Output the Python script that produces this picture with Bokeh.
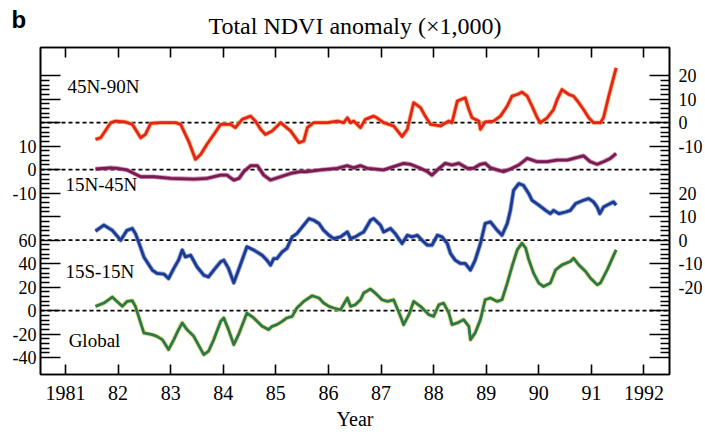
from bokeh.plotting import figure
from bokeh.models import Range1d, LinearAxis, FixedTicker, Span, Label
from bokeh.embed import file_html
from bokeh.resources import INLINE

# ---------------- data ----------------
north_45_90 = [
    (1981.57, -7.1), (1981.67, -6.4), (1981.86, 0.0), (1981.95, 0.7), (1982.14, 0.3),
    (1982.27, -0.7), (1982.43, -6.4), (1982.52, -5.0), (1982.62, -0.3), (1982.81, 0.0),
    (1983.09, 0.0), (1983.19, -0.7), (1983.34, -7.8), (1983.47, -15.6), (1983.57, -13.5),
    (1983.69, -9.2), (1983.82, -5.0), (1983.95, -0.7), (1984.14, -0.7), (1984.23, -2.1),
    (1984.36, 1.4), (1984.52, 2.8), (1984.61, 0.7), (1984.71, -2.8), (1984.80, -5.0),
    (1984.93, -3.5), (1985.09, 0.0), (1985.28, -3.5), (1985.44, -8.5), (1985.53, -7.8),
    (1985.60, -2.1), (1985.72, 0.0), (1985.98, 0.0), (1986.17, 0.7), (1986.29, 0.0),
    (1986.36, 2.1), (1986.42, 0.0), (1986.48, 0.7), (1986.61, -2.1), (1986.70, 1.4),
    (1986.86, 2.8), (1986.92, 2.1), (1987.05, 0.0), (1987.24, -1.4), (1987.40, -5.9),
    (1987.50, -2.8), (1987.62, 8.5), (1987.75, 6.4), (1987.84, 2.8), (1987.94, -0.7),
    (1988.13, -1.4), (1988.29, 0.7), (1988.35, 0.0), (1988.45, 9.2), (1988.60, 10.6),
    (1988.67, 5.6), (1988.73, 2.1), (1988.86, 0.7), (1988.89, -2.8), (1988.98, 0.3),
    (1989.14, 0.7), (1989.27, 2.8), (1989.40, 7.1), (1989.49, 11.3), (1989.59, 12.0),
    (1989.68, 13.0), (1989.78, 11.3), (1989.87, 7.1), (1989.97, 2.1), (1990.03, 0.0),
    (1990.16, 2.1), (1990.28, 5.6), (1990.35, 9.9), (1990.44, 14.1), (1990.57, 12.0),
    (1990.66, 11.3), (1990.76, 8.5), (1990.85, 5.6), (1990.95, 2.1), (1991.04, 0.0),
    (1991.17, 0.0), (1991.23, 2.1), (1991.33, 11.3), (1991.47, 23.3),
]
north_15_45 = [
    (1981.57, 0.3), (1981.86, 0.8), (1981.98, 0.6), (1982.17, -0.1), (1982.43, -3.0),
    (1982.68, -3.0), (1983.00, -3.7), (1983.44, -4.0), (1983.69, -3.7), (1983.95, -2.3),
    (1984.07, -2.3), (1984.20, -4.4), (1984.30, -3.7), (1984.39, -0.8), (1984.52, 1.7),
    (1984.65, 1.7), (1984.77, -2.3), (1984.90, -4.4), (1985.09, -3.0), (1985.28, -1.6),
    (1985.47, -0.8), (1985.60, -0.8), (1985.85, -0.1), (1986.17, 0.6), (1986.36, 1.7),
    (1986.48, 0.8), (1986.61, 1.7), (1986.74, 0.6), (1987.05, -0.1), (1987.24, 1.3),
    (1987.43, 2.7), (1987.56, 2.3), (1987.75, 0.6), (1987.88, -0.8), (1987.97, -2.3),
    (1988.07, -0.1), (1988.22, 2.7), (1988.35, 2.0), (1988.48, 2.7), (1988.64, 0.6),
    (1988.76, 0.6), (1988.89, 2.3), (1988.98, 2.7), (1989.08, 0.8), (1989.21, -0.1),
    (1989.33, -0.8), (1989.46, 0.3), (1989.62, 2.0), (1989.78, 4.8), (1989.97, 3.4),
    (1990.16, 3.4), (1990.35, 4.1), (1990.54, 4.1), (1990.66, 4.8), (1990.85, 5.9),
    (1990.98, 3.4), (1991.11, 2.3), (1991.23, 3.4), (1991.36, 4.8), (1991.47, 6.9),
]
tropics = [
    (1981.57, 3.9), (1981.73, 6.4), (1981.89, 4.2), (1982.05, 0.0), (1982.17, 4.2),
    (1982.27, 5.0), (1982.33, 2.8), (1982.39, -0.7), (1982.49, -7.1), (1982.65, -12.7),
    (1982.74, -14.1), (1982.87, -14.4), (1982.96, -16.3), (1983.06, -12.0), (1983.15, -8.5),
    (1983.22, -4.2), (1983.28, -7.1), (1983.38, -6.4), (1983.50, -11.3), (1983.63, -14.9),
    (1983.72, -15.6), (1983.82, -12.7), (1983.95, -9.2), (1984.01, -8.5), (1984.10, -12.0),
    (1984.20, -18.1), (1984.29, -12.7), (1984.45, -2.8), (1984.58, -4.2), (1984.74, -6.4),
    (1984.83, -8.5), (1984.90, -10.6), (1984.96, -7.8), (1985.02, -7.8), (1985.12, -5.0),
    (1985.21, -3.5), (1985.31, 1.4), (1985.40, 2.8), (1985.53, 6.4), (1985.63, 9.2),
    (1985.72, 8.5), (1985.82, 7.1), (1985.91, 4.2), (1986.01, 2.1), (1986.10, 0.7),
    (1986.23, 1.4), (1986.36, 3.5), (1986.42, 0.7), (1986.51, 1.4), (1986.61, 2.8),
    (1986.67, 3.5), (1986.80, 8.5), (1986.86, 9.2), (1986.99, 6.4), (1987.05, 3.5),
    (1987.18, 5.0), (1987.27, 2.8), (1987.40, -1.4), (1987.50, 2.1), (1987.59, 1.4),
    (1987.69, 2.1), (1987.78, 0.0), (1987.88, -2.1), (1987.97, -2.1), (1988.07, 2.1),
    (1988.16, 1.4), (1988.26, -1.4), (1988.32, -5.6), (1988.41, -8.5), (1988.51, -9.9),
    (1988.60, -9.9), (1988.70, -12.7), (1988.79, -8.5), (1988.89, -1.4), (1988.98, 7.1),
    (1989.08, 7.8), (1989.21, 4.2), (1989.30, 2.1), (1989.40, 7.1), (1989.46, 12.7),
    (1989.52, 21.2), (1989.62, 24.1), (1989.71, 23.3), (1989.81, 19.8), (1989.87, 17.0),
    (1990.00, 14.9), (1990.13, 12.7), (1990.22, 11.3), (1990.28, 12.7), (1990.38, 11.3),
    (1990.51, 12.0), (1990.60, 12.7), (1990.70, 15.6), (1990.85, 17.0), (1990.95, 17.7),
    (1991.04, 16.3), (1991.11, 14.1), (1991.16, 11.3), (1991.23, 14.1), (1991.36, 15.6),
    (1991.42, 16.3), (1991.47, 14.9),
]
global_total = [
    (1981.57, 3.7), (1981.73, 6.5), (1981.89, 11.6), (1981.98, 7.9), (1982.08, 3.7),
    (1982.17, 7.9), (1982.27, 8.5), (1982.33, 3.7), (1982.43, -10.4), (1982.49, -18.9),
    (1982.65, -20.4), (1982.74, -21.8), (1982.84, -24.6), (1982.96, -33.1), (1983.06, -24.6),
    (1983.15, -16.1), (1983.22, -10.4), (1983.31, -16.1), (1983.44, -21.8), (1983.63, -37.4),
    (1983.72, -34.5), (1983.82, -24.6), (1983.95, -9.1), (1984.01, -6.2), (1984.10, -16.1),
    (1984.20, -28.9), (1984.29, -20.4), (1984.45, -2.0), (1984.58, -6.2), (1984.74, -13.3),
    (1984.86, -16.1), (1984.93, -13.3), (1985.02, -11.9), (1985.12, -9.1), (1985.21, -6.2),
    (1985.31, -4.8), (1985.40, 2.3), (1985.53, 7.9), (1985.69, 12.7), (1985.82, 10.8),
    (1985.91, 6.5), (1986.01, 3.7), (1986.10, 2.3), (1986.23, 0.8), (1986.36, 10.8),
    (1986.42, 3.7), (1986.51, 5.1), (1986.61, 9.3), (1986.67, 15.0), (1986.80, 18.4),
    (1986.89, 15.0), (1987.02, 9.3), (1987.12, 7.9), (1987.24, 9.3), (1987.37, -4.8),
    (1987.43, -11.9), (1987.53, -3.4), (1987.62, 7.9), (1987.75, 3.7), (1987.91, -3.4),
    (1988.00, -4.8), (1988.10, 5.1), (1988.19, 6.5), (1988.29, -2.0), (1988.35, -11.9),
    (1988.45, -10.4), (1988.57, -7.6), (1988.67, -13.3), (1988.70, -24.6), (1988.79, -18.9),
    (1988.89, -7.6), (1988.98, 9.3), (1989.08, 10.8), (1989.21, 7.9), (1989.30, 9.3),
    (1989.40, 23.5), (1989.49, 37.6), (1989.59, 51.8), (1989.68, 57.5), (1989.75, 53.2),
    (1989.81, 43.3), (1989.90, 32.0), (1990.00, 23.5), (1990.09, 20.6), (1990.22, 23.5),
    (1990.32, 34.8), (1990.44, 39.0), (1990.60, 41.9), (1990.66, 44.7), (1990.76, 39.0),
    (1990.89, 33.4), (1990.98, 27.8), (1991.11, 22.1), (1991.17, 23.5), (1991.30, 34.8),
    (1991.47, 51.8),
]

years = [1981, 1982, 1983, 1984, 1985, 1986, 1987, 1988, 1989, 1990, 1991, 1992]
year_labels = ["1981", "82", "83", "84", "85", "86", "87", "88", "89", "90", "91", "1992"]

# left axis labels (position on the Global scale -> text)
left_labels = {140: "10", 120: "0", 100: "-10",
               60: "60", 40: "40", 20: "20", 0: "0", -20: "-20", -40: "-40"}
right_labels = {200: "20", 180: "10", 160: "0", 140: "-10",
                100: "20", 80: "10", 60: "0", 40: "-10", 20: "-20"}

regions = ["45N-90N", "15N-45N", "15S-15N", "Global"]
title_text = "Total NDVI anomaly (\u00d71,000)"
panel_letter = "b"

def unzip(pts):
    return [a for a, _ in pts], [b for _, b in pts]

# ---------------- figure ----------------
SERIF = "Liberation Serif"
Y0, Y1 = -54.3, 224.0          # Global-scale range
p = figure(width=705, height=432, output_backend="svg", toolbar_location=None,
           x_range=Range1d(1980.525, 1992.485), y_range=Range1d(Y0, Y1),
           min_border_left=40, min_border_right=36, min_border_top=47,
           min_border_bottom=57, title=panel_letter)
p.background_fill_color = "white"
p.border_fill_color = "white"
p.outline_line_color = "black"
p.outline_line_width = 1.6
p.xgrid.grid_line_color = None
p.ygrid.grid_line_color = None
# panel letter (outermost title row, pulled down next to the main title)
p.title.align = "left"
p.title.offset = -29
p.title.standoff = -47
p.title.text_font = "Liberation Sans"
p.title.text_font_size = "24px"
p.title.text_font_style = "bold"
p.title.text_color = "black"

# regional panels: 10 units of anomaly = 20 units of the Global scale, stacked
offsets = {"r45": 160, "r15n": 120, "r15s": 60}
p.extra_y_ranges = {k: Range1d((Y0 - o) / 2.0, (Y1 - o) / 2.0) for k, o in offsets.items()}

# zero lines
for loc in [160, 120, 60, 0]:
    p.add_layout(Span(location=loc, dimension="width", line_color="black",
                      line_dash="4 3", line_width=1.8, level="underlay"))

def draw(pts, rng, color, fringe, w):
    x, y = unzip(pts)
    kw = {} if rng is None else {"y_range_name": rng}
    p.line(x, y, line_color=fringe, line_width=w + 1.8, line_alpha=0.7,
           line_join="round", **kw)
    p.line(x, y, line_color=color, line_width=w, line_join="round", **kw)

draw(north_45_90, "r45", "#e6231b", "#f6a24c", 2.8)
draw(north_15_45, "r15n", "#7a1a52", "#b4608e", 2.8)
draw(tropics, "r15s", "#1b3a94", "#6a84c4", 2.8)
draw(global_total, None, "#2a7752", "#d9d24a", 2.8)

# ---------------- axes ----------------
major_y = list(range(-40, 201, 20))
minor_y = [v for v in range(-40, 201, 4) if v % 20 != 0]

def style_y(ax, labels, standoff):
    ax.ticker = FixedTicker(ticks=major_y, minor_ticks=minor_y)
    ax.major_label_overrides = {v: labels.get(v, "") for v in major_y}
    ax.major_tick_in = 20
    ax.major_tick_out = 0
    ax.minor_tick_in = 9
    ax.minor_tick_out = 0
    ax.axis_line_width = 1.6
    ax.major_tick_line_width = 1.6
    ax.minor_tick_line_width = 1.3
    ax.major_label_text_font = SERIF
    ax.major_label_text_font_size = "18px"
    ax.major_label_text_color = "black"
    ax.major_label_standoff = standoff

style_y(p.yaxis[0], left_labels, 4)
right = LinearAxis()
style_y(right, right_labels, 9)
p.add_layout(right, "right")

def style_x(ax, show):
    ax.ticker = FixedTicker(ticks=years, minor_ticks=[])
    ax.major_label_overrides = {y: (lab if show else "") for y, lab in zip(years, year_labels)}
    ax.major_tick_in = 10
    ax.major_tick_out = 0
    ax.minor_tick_line_color = None
    ax.axis_line_width = 1.6
    ax.major_tick_line_width = 1.6
    ax.major_label_text_font = SERIF
    ax.major_label_text_font_size = "20px" if show else "1px"
    ax.major_label_text_color = "black"

style_x(p.xaxis[0], True)
p.xaxis[0].major_label_standoff = 11
p.xaxis[0].axis_label = "Year"
p.xaxis[0].axis_label_text_font = SERIF
p.xaxis[0].axis_label_text_font_size = "20px"
p.xaxis[0].axis_label_text_font_style = "normal"
p.xaxis[0].axis_label_text_color = "black"
p.xaxis[0].axis_label_standoff = 5

# top axis: year ticks only, carrying the chart title as its label
top = LinearAxis()
style_x(top, False)
top.major_label_standoff = 0
top.axis_label = title_text
top.axis_label_text_font = SERIF
top.axis_label_text_font_size = "24px"
top.axis_label_text_font_style = "normal"
top.axis_label_text_color = "black"
top.axis_label_standoff = 9
p.add_layout(top, "above")

# ---------------- region labels ----------------
label_pos = [(1981.04, 190.4), (1981.0, 107.0), (1981.0, 33.1), (1981.06, -25.5)]
for name, (lx, ly) in zip(regions, label_pos):
    p.add_layout(Label(x=lx, y=ly, text=name, text_font=SERIF, text_font_size="19px",
                       text_baseline="middle", text_align="left", text_color="black"))

open("out.html", "w").write(file_html(p, INLINE))
